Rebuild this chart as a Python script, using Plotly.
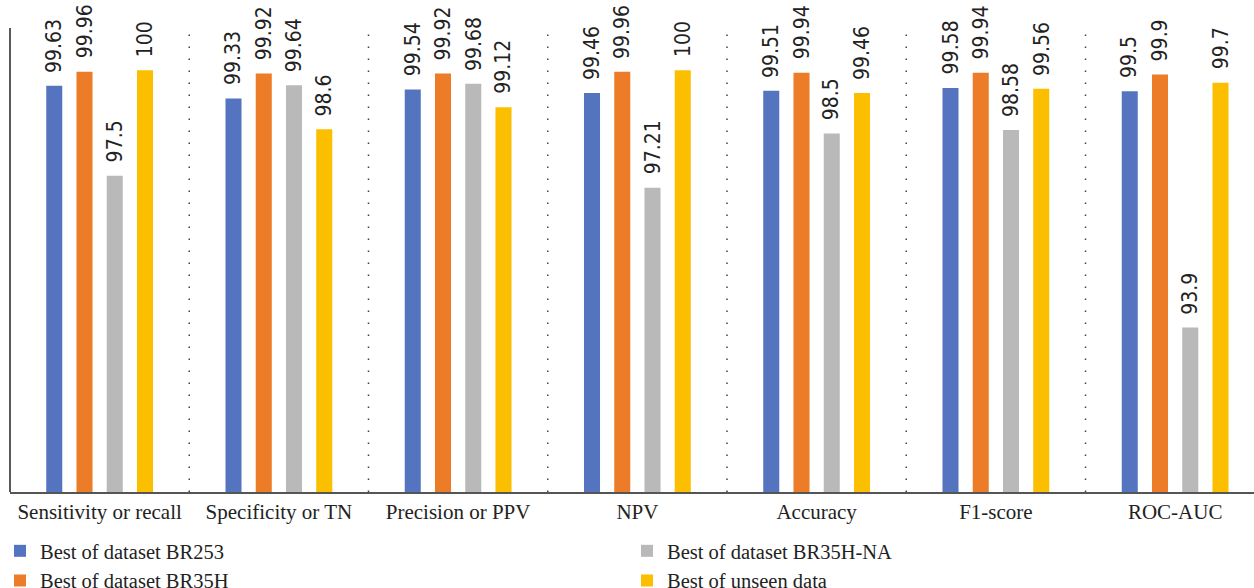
import plotly.graph_objects as go

categories = ["Sensitivity or recall", "Specificity or TN", "Precision or PPV", "NPV",
              "Accuracy", "F1-score", "ROC-AUC"]
br253 = [99.63, 99.33, 99.54, 99.46, 99.51, 99.58, 99.5]
br35h = [99.96, 99.92, 99.92, 99.96, 99.94, 99.94, 99.9]
br35h_na = [97.5, 99.64, 99.68, 97.21, 98.5, 98.58, 93.9]
unseen = [100, 98.6, 99.12, 100, 99.46, 99.56, 99.7]

series_names = ["Best of dataset BR253", "Best of dataset BR35H",
                "Best of dataset BR35H-NA", "Best of unseen data"]
series_values = [br253, br35h, br35h_na, unseen]
colors = ["#5574BF", "#EC7C27", "#B9B9B9", "#FBBF00"]
legend_ids = ["legend", "legend", "legend2", "legend2"]

BARGAP = 0.325
GROUPGAP = 0.47
n = len(series_values)
slot = (1 - BARGAP) / n

SERIF = "Liberation Serif, DejaVu Serif, serif"
LABEL_FONT = "Liberation Sans Narrow, DejaVu Sans Condensed, Lato, sans-serif"

fig = go.Figure()
xs = list(range(len(categories)))
for k, (name, vals, col, lg) in enumerate(zip(series_names, series_values, colors, legend_ids)):
    fig.add_trace(go.Bar(x=xs, y=vals, name=name, marker_color=col,
                         marker_line_width=0, legend=lg))

annotations = []
for k, vals in enumerate(series_values):
    off = (k - (n - 1) / 2) * slot
    for i, v in enumerate(vals):
        annotations.append(dict(x=i + off, y=v, xref="x", yref="y", text=f"{v:g}",
                                showarrow=False, textangle=-90, yanchor="bottom",
                                xanchor="center", yshift=11,
                                font=dict(family=LABEL_FONT, size=21, color="#222")))

shapes = []
for i in range(len(categories) - 1):
    shapes.append(dict(type="line", xref="x", yref="paper", x0=i + 0.5, x1=i + 0.5,
                       y0=0, y1=1, line=dict(color="#444", width=1.5, dash="1.5px,10.5px")))
# left axis line
shapes.append(dict(type="line", xref="paper", yref="paper", x0=0, x1=0, y0=0, y1=1,
                   line=dict(color="#5a5a5a", width=2)))

legend_common = dict(orientation="v", xref="container", yref="container",
                     xanchor="left", yanchor="top", traceorder="normal",
                     font=dict(family=SERIF, size=20.5, color="#222"),
                     tracegroupgap=0, itemclick=False, bgcolor="rgba(0,0,0,0)")

fig.update_layout(
    width=1254, height=588,
    margin=dict(l=10, r=0, t=28, b=96, autoexpand=False),
    paper_bgcolor="white", plot_bgcolor="white",
    barmode="group", bargap=BARGAP, bargroupgap=GROUPGAP,
    font=dict(family=SERIF, size=18, color="#222"),
    xaxis=dict(tickmode="array", tickvals=xs, ticktext=categories, tickangle=0,
               range=[-0.5, 6.44], showgrid=False, zeroline=False,
               showline=True, linecolor="#555", linewidth=1.5, ticks="",
               tickfont=dict(family=SERIF, size=21, color="#222")),
    yaxis=dict(range=[90, 101], showgrid=False, zeroline=False, showticklabels=False,
               showline=False, ticks=""),
    legend=dict(x=0, y=57/588, **legend_common),
    legend2=dict(x=627/1254, y=57/588, **legend_common),
    annotations=annotations, shapes=shapes, showlegend=True,
)

fig.write_html("out.html")
